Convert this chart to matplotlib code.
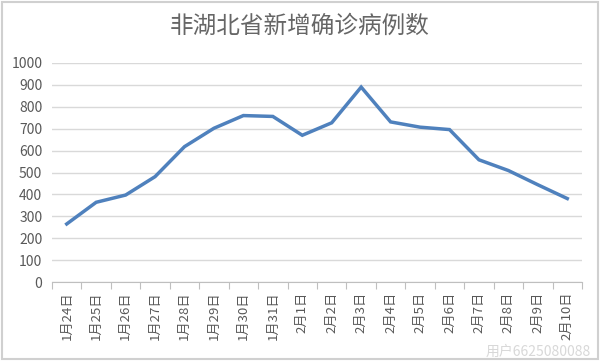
import matplotlib
matplotlib.use("Agg")
import matplotlib.pyplot as plt
from matplotlib.patches import Rectangle

plt.rcParams['font.family'] = ['Noto Sans CJK SC', 'DejaVu Sans']

categories = ["1月24日", "1月25日", "1月26日", "1月27日", "1月28日", "1月29日",
              "1月30日", "1月31日", "2月1日", "2月2日", "2月3日", "2月4日",
              "2月5日", "2月6日", "2月7日", "2月8日", "2月9日", "2月10日"]
values = [265, 364, 397, 481, 618, 702, 760, 756, 670, 727, 890, 731,
          707, 696, 558, 509, 444, 381]
yticks = [0, 100, 200, 300, 400, 500, 600, 700, 800, 900, 1000]
title = "非湖北省新增确诊病例数"

fig = plt.figure(figsize=(6.0, 3.61), dpi=100)
fig.patches.append(Rectangle((0.004, 0.006), 0.992, 0.988, transform=fig.transFigure,
                             fill=False, edgecolor="#d0d0d0", linewidth=1.5))
ax = fig.add_axes([52/600, 1-282/361, 530/600, 219/361])

x = list(range(len(categories)))
ax.plot(x, values, color="#4f81bd", linewidth=2.5, solid_joinstyle="miter")

ax.set_xlim(-0.5, len(categories) - 0.5)
ax.set_ylim(0, 1000)
ax.set_yticks(yticks)
ax.set_yticklabels([str(v) for v in yticks], fontsize=10, color="#595959")
ax.tick_params(axis="y", length=0, pad=7)
ax.yaxis.grid(True, color="#d9d9d9", linewidth=1)
ax.set_axisbelow(True)

ax.set_xticks([i - 0.5 for i in range(len(categories) + 1)], minor=False)
ax.set_xticklabels([""] * (len(categories) + 1))
ax.set_xticks(x, minor=True)
ax.set_xticklabels(categories, minor=True, rotation=90, fontsize=9.5, color="#595959")
ax.tick_params(axis="x", which="major", length=5, color="#bfbfbf", direction="out")
ax.tick_params(axis="x", which="minor", length=0, pad=7)

for s in ["top", "right", "left"]:
    ax.spines[s].set_visible(False)
ax.spines["bottom"].set_color("#bfbfbf")

fig.text(0.5, 1-26/361, title, ha="center", va="center", fontsize=17, color="#666666")
fig.text(0.985, 0.006, "用户6625080088", ha="right", va="bottom", fontsize=10,
         color="#d8d8d8")

fig.savefig("out.png", dpi=100)
